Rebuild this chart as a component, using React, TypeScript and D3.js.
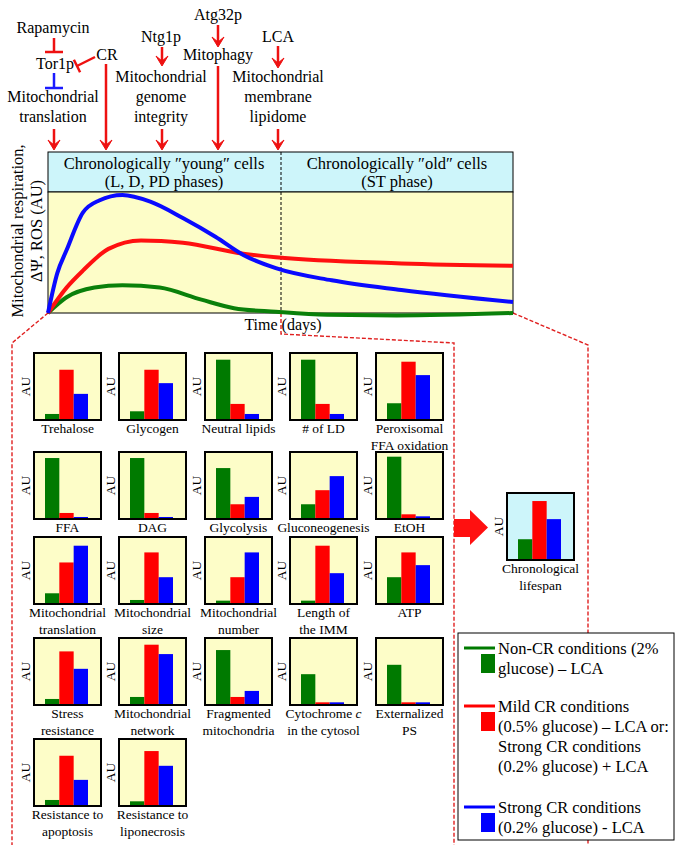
import React from 'react';
import * as d3 from 'd3';

// ---------- DATA ----------
const seriesKeys = ['nonCR', 'mildCR', 'strongCR'];
const seriesColors = ['#007a00', '#ff0000', '#0000ff'];

const panelLabels = [
  'Trehalose', 'Glycogen', 'Neutral lipids', '# of LD', 'Peroxisomal\nFFA oxidation',
  'FFA', 'DAG', 'Glycolysis', 'Gluconeogenesis', 'EtOH',
  'Mitochondrial\ntranslation', 'Mitochondrial\nsize', 'Mitochondrial\nnumber', 'Length of\nthe IMM', 'ATP',
  'Stress\nresistance', 'Mitochondrial\nnetwork', 'Fragmented\nmitochondria', 'Cytochrome c\nin the cytosol', 'Externalized\nPS',
  'Resistance to\napoptosis', 'Resistance to\nliponecrosis',
];
const nonCRValues = [9, 13, 90, 90, 25, 91, 91, 76, 22, 93, 16, 6, 5, 5, 40, 9, 12, 82, 46, 60, 9, 7];
const mildCRValues = [75, 75, 24, 24, 87, 9, 9, 22, 43, 7, 62, 77, 40, 87, 77, 80, 90, 12, 4, 4, 75, 82];
const strongCRValues = [39, 55, 9, 9, 67, 3, 3, 33, 64, 4, 87, 40, 77, 46, 58, 54, 76, 21, 4, 4, 39, 60];

const lifespanLabel = 'Chronological\nlifespan';
const lifespanValues = [31, 88, 61];

const blueTime = [0, 2, 4, 7.5, 11, 16, 22, 29, 36, 42, 49, 61, 76, 100];
const blueLevel = [0, 33, 52, 83, 93, 97.5, 92, 78.5, 63, 48, 37, 27, 19, 9];
const redTime = [0, 4, 7.5, 13, 20, 29, 42, 49, 76, 100];
const redLevel = [0, 21, 35, 53, 60, 58, 49, 46, 41, 39];
const greenTime = [0, 4, 10, 16, 24, 33, 40, 49, 60, 75, 100];
const greenLevel = [0, 13, 21, 23, 21, 11, 4, 1, -1.5, -2, 0];

const legendTexts = [
  ['Non-CR conditions (2%', 'glucose) \u2013 LCA'],
  ['Mild CR conditions', '(0.5% glucose) \u2013 LCA or:', 'Strong CR conditions', '(0.2% glucose) + LCA'],
  ['Strong CR conditions', '(0.2% glucose) - LCA'],
];

// ---------- LAYOUT ----------
const W = 684, H = 863;
const FONT = "'Liberation Serif', 'Times New Roman', Times, serif";
const RED = '#ee1111';
const COLS = [34, 119, 205, 290, 376];
const ROWS = [353, 452, 537, 638, 739];
const BOX = 67;

const CH = { left: 48, right: 513, headTop: 152, headBottom: 192, bottom: 313, divider: 281 };

const T = (props: any) => <text {...props} style={{ fontFamily: FONT, ...(props.style || {}) }} />;

function Arrow({ x, y1, y2 }: { x: number; y1: number; y2: number }) {
  return (
    <g>
      <line x1={x} y1={y1} x2={x} y2={y2 - 4} stroke={RED} strokeWidth={2.5} />
      <path d={`M${x - 6},${y2 - 10} L${x},${y2} L${x + 6},${y2 - 10} L${x},${y2 - 5} Z`} fill={RED} stroke={RED} strokeWidth={1} strokeLinejoin="round" />
    </g>
  );
}

function LabelText({ x, y, text, size, lh }: { x: number; y: number; text: string; size: number; lh: number }) {
  const lines = text.split('\n');
  return (
    <T x={x} y={y} textAnchor="middle" fontSize={size} fill="#000">
      {lines.map((l, i) => {
        if (l.startsWith('Cytochrome c')) {
          return (
            <tspan key={i} x={x} dy={i === 0 ? 0 : lh}>
              Cytochrome <tspan fontStyle="italic">c</tspan>
            </tspan>
          );
        }
        return (
          <tspan key={i} x={x} dy={i === 0 ? 0 : lh}>{l}</tspan>
        );
      })}
    </T>
  );
}

function MiniBar({ x0, y0, vals, label, fill }: { x0: number; y0: number; vals: number[]; label: string; fill: string }) {
  const xb = d3.scaleBand().domain(seriesKeys).range([x0 + 11, x0 + 54]).padding(0);
  const yb = d3.scaleLinear().domain([0, 100]).range([y0 + BOX, y0]);
  return (
    <g>
      <rect x={x0} y={y0} width={BOX} height={BOX} fill={fill} />
      {seriesKeys.map((k, i) => (
        <rect key={k} x={xb(k)} y={yb(vals[i])} width={xb.bandwidth()} height={yb(0) - yb(vals[i])} fill={seriesColors[i]} />
      ))}
      <rect x={x0} y={y0} width={BOX} height={BOX} fill="none" stroke="#000" strokeWidth={2} />
      <T transform={`translate(${x0 - 4},${y0 + BOX / 2}) rotate(-90)`} textAnchor="middle" fontSize={13.5}>AU</T>
      <LabelText x={x0 + BOX / 2} y={y0 + BOX + 13} text={label} size={13.5} lh={17} />
    </g>
  );
}

export default function App() {
  const x = d3.scaleLinear().domain([0, 100]).range([CH.left, CH.right]);
  const y = d3.scaleLinear().domain([0, 100]).range([CH.bottom, CH.headBottom]);
  const line = d3.line<[number, number]>().x(d => x(d[0])).y(d => y(d[1])).curve(d3.curveMonotoneX);
  const pts = (t: number[], v: number[]) => t.map((tt, i) => [tt, v[i]] as [number, number]);

  const dashRed = { stroke: '#e02020', strokeWidth: 1.4, strokeDasharray: '4,2', fill: 'none' };

  return (
    <svg width={W} height={H} style={{ position: 'absolute', left: 0, top: 0, background: '#fff', fontFamily: FONT }}>
      {/* top annotations */}
      <g fontSize={16} textAnchor="middle" fill="#000">
        <T x={53} y={33}>Rapamycin</T>
        <T x={55} y={69}>Tor1p</T>
        <T x={107} y={60}>CR</T>
        <T x={53} y={102}>Mitochondrial</T>
        <T x={53} y={122}>translation</T>
        <T x={161} y={42}>Ntg1p</T>
        <T x={161} y={82}>Mitochondrial</T>
        <T x={161} y={102}>genome</T>
        <T x={161} y={122}>integrity</T>
        <T x={218} y={20}>Atg32p</T>
        <T x={218} y={60}>Mitophagy</T>
        <T x={278} y={42}>LCA</T>
        <T x={278} y={82}>Mitochondrial</T>
        <T x={278} y={102}>membrane</T>
        <T x={278} y={122}>lipidome</T>
      </g>
      {/* inhibition bars */}
      <line x1={54} y1={38} x2={54} y2={52} stroke={RED} strokeWidth={2.5} />
      <line x1={45} y1={52} x2={63} y2={52} stroke={RED} strokeWidth={2.5} />
      <line x1={95} y1={57} x2={77} y2={66} stroke={RED} strokeWidth={2.5} />
      <line x1={73.9} y1={59.7} x2={80.1} y2={72.3} stroke={RED} strokeWidth={2.5} />
      <line x1={54} y1={73} x2={54} y2={88} stroke="#1a1aff" strokeWidth={2.5} />
      <line x1={45} y1={88} x2={63} y2={88} stroke="#1a1aff" strokeWidth={2.5} />
      {/* arrows */}
      <Arrow x={54} y1={129} y2={150} />
      <Arrow x={106} y1={64} y2={150} />
      <Arrow x={162} y1={47} y2={66} />
      <Arrow x={162} y1={129} y2={150} />
      <Arrow x={218} y1={25} y2={47} />
      <Arrow x={218} y1={66} y2={150} />
      <Arrow x={278} y1={46} y2={68} />
      <Arrow x={278} y1={129} y2={150} />

      {/* dashed red guides */}
      <path d={`M${CH.left},${CH.bottom} L12,343 L12,845`} style={dashRed} />
      <path d={`M${CH.divider},${CH.bottom} L${CH.divider},334 L454,343 L454,845`} style={dashRed} />
      <path d={`M${CH.right},${CH.bottom} L588,345 L588,845`} style={dashRed} />

      {/* main chart */}
      <rect x={CH.left} y={CH.headTop} width={CH.right - CH.left} height={CH.headBottom - CH.headTop} fill="#cdf5fa" stroke="#000" strokeWidth={1} />
      <rect x={CH.left} y={CH.headBottom} width={CH.right - CH.left} height={CH.bottom - CH.headBottom} fill="#fdfdc8" stroke="#000" strokeWidth={1} />
      <line x1={CH.divider} y1={CH.headTop} x2={CH.divider} y2={CH.bottom} stroke="#000" strokeWidth={1} strokeDasharray="3,2" />
      <g fontSize={16.5} textAnchor="middle">
        <T x={164} y={169}>Chronologically {'\u2033'}young{'\u2033'} cells</T>
        <T x={164} y={187}>(L, D, PD phases)</T>
        <T x={397} y={169}>Chronologically {'\u2033'}old{'\u2033'} cells</T>
        <T x={397} y={187}>(ST phase)</T>
      </g>
      <path d={line(pts(greenTime, greenLevel)) || ''} fill="none" stroke="#0a800a" strokeWidth={4} />
      <path d={line(pts(redTime, redLevel)) || ''} fill="none" stroke="#ff1010" strokeWidth={4} />
      <path d={line(pts(blueTime, blueLevel)) || ''} fill="none" stroke="#0a0aff" strokeWidth={4} />
      <T transform={`translate(23,231) rotate(-90)`} textAnchor="middle" fontSize={16.5}>Mitochondrial respiration,</T>
      <T transform={`translate(42,231) rotate(-90)`} textAnchor="middle" fontSize={16.5}>{'\u0394\u03A8'}, ROS (AU)</T>
      <T x={283} y={330} textAnchor="middle" fontSize={16}>Time (days)</T>

      {/* mini bar panels */}
      {panelLabels.map((lab, i) => (
        <MiniBar key={i} x0={COLS[i % 5]} y0={ROWS[Math.floor(i / 5)]} vals={[nonCRValues[i], mildCRValues[i], strongCRValues[i]]} label={lab} fill="#fdfdc8" />
      ))}

      {/* big arrow */}
      <path d="M454,519 L470,519 L470,510 L488,527.5 L470,545 L470,537 L454,537 Z" fill="#ff1010" />

      {/* lifespan */}
      <MiniBar x0={507} y0={493} vals={lifespanValues} label={lifespanLabel} fill="#cdf5fa" />

      {/* legend */}
      <rect x={458} y={633} width={216} height={207} fill="#fff" stroke="#000" strokeWidth={1} />
      {[648, 706, 807].map((ly, i) => (
        <g key={i}>
          <line x1={464} y1={ly} x2={495} y2={ly} stroke={seriesColors[i]} strokeWidth={3} />
          <rect x={481} y={ly + 6} width={14} height={19} fill={seriesColors[i]} />
          <T x={498} y={ly + 6} fontSize={16.5}>
            {legendTexts[i].map((t, j) => (
              <tspan key={j} x={498} dy={j === 0 ? 0 : 20}>{t}</tspan>
            ))}
          </T>
        </g>
      ))}
    </svg>
  );
}
